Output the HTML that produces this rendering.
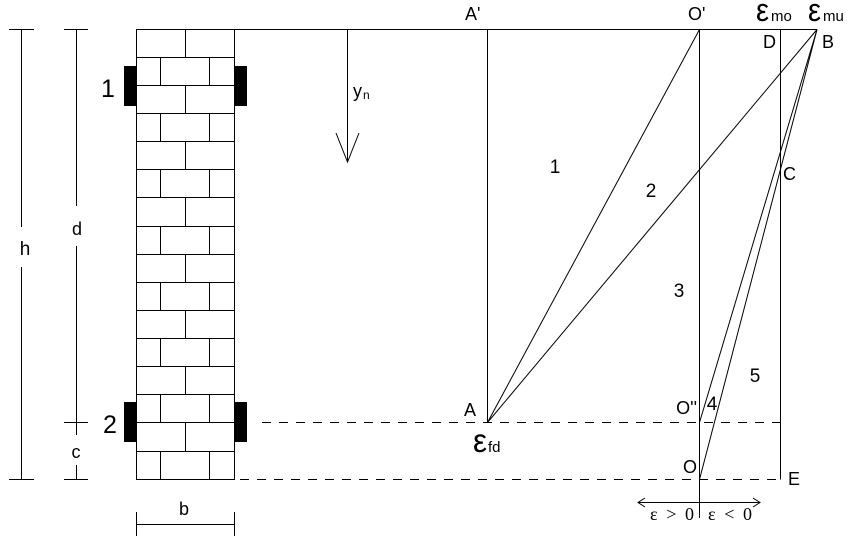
<!DOCTYPE html>
<html>
<head>
<meta charset="utf-8">
<style>
  html, body { margin: 0; padding: 0; background: #fff; }
  svg { display: block; }
  text { font-family: "Liberation Sans", Arial, sans-serif; fill: #000; }
  .serif { font-family: "Liberation Serif", "Times New Roman", serif; }
</style>
</head>
<body>
<svg width="854" height="541" viewBox="0 0 854 541" xmlns="http://www.w3.org/2000/svg">
  <rect width="854" height="541" fill="#fff"/>
  <g stroke="#000" stroke-width="1" fill="none" shape-rendering="crispEdges">
    <!-- wall outline -->
    <line x1="136.5" y1="29.5" x2="136.5" y2="479.5"/>
    <line x1="234.5" y1="29.5" x2="234.5" y2="479.5"/>
    <!-- brick course lines -->
    <line x1="136" y1="57.5" x2="235" y2="57.5"/>
    <line x1="136" y1="85.5" x2="235" y2="85.5"/>
    <line x1="136" y1="113.5" x2="235" y2="113.5"/>
    <line x1="136" y1="141.5" x2="235" y2="141.5"/>
    <line x1="136" y1="169.5" x2="235" y2="169.5"/>
    <line x1="136" y1="197.5" x2="235" y2="197.5"/>
    <line x1="136" y1="226.5" x2="235" y2="226.5"/>
    <line x1="136" y1="254.5" x2="235" y2="254.5"/>
    <line x1="136" y1="282.5" x2="235" y2="282.5"/>
    <line x1="136" y1="310.5" x2="235" y2="310.5"/>
    <line x1="136" y1="338.5" x2="235" y2="338.5"/>
    <line x1="136" y1="366.5" x2="235" y2="366.5"/>
    <line x1="136" y1="394.5" x2="235" y2="394.5"/>
    <line x1="136" y1="422.5" x2="235" y2="422.5"/>
    <line x1="136" y1="451.5" x2="235" y2="451.5"/>
    <line x1="136" y1="479.5" x2="235" y2="479.5"/>
    <!-- vertical joints: even rows middle -->
    <line x1="185.5" y1="29.5" x2="185.5" y2="57.5"/>
    <line x1="185.5" y1="85.5" x2="185.5" y2="113.5"/>
    <line x1="185.5" y1="141.5" x2="185.5" y2="169.5"/>
    <line x1="185.5" y1="197.5" x2="185.5" y2="226.5"/>
    <line x1="185.5" y1="254.5" x2="185.5" y2="282.5"/>
    <line x1="185.5" y1="310.5" x2="185.5" y2="338.5"/>
    <line x1="185.5" y1="366.5" x2="185.5" y2="394.5"/>
    <line x1="185.5" y1="422.5" x2="185.5" y2="451.5"/>
    <!-- odd rows: two joints -->
    <line x1="160.5" y1="57.5" x2="160.5" y2="85.5"/>
    <line x1="209.5" y1="57.5" x2="209.5" y2="85.5"/>
    <line x1="160.5" y1="113.5" x2="160.5" y2="141.5"/>
    <line x1="209.5" y1="113.5" x2="209.5" y2="141.5"/>
    <line x1="160.5" y1="169.5" x2="160.5" y2="197.5"/>
    <line x1="209.5" y1="169.5" x2="209.5" y2="197.5"/>
    <line x1="160.5" y1="226.5" x2="160.5" y2="254.5"/>
    <line x1="209.5" y1="226.5" x2="209.5" y2="254.5"/>
    <line x1="160.5" y1="282.5" x2="160.5" y2="310.5"/>
    <line x1="209.5" y1="282.5" x2="209.5" y2="310.5"/>
    <line x1="160.5" y1="338.5" x2="160.5" y2="366.5"/>
    <line x1="209.5" y1="338.5" x2="209.5" y2="366.5"/>
    <line x1="160.5" y1="394.5" x2="160.5" y2="422.5"/>
    <line x1="209.5" y1="394.5" x2="209.5" y2="422.5"/>
    <line x1="160.5" y1="451.5" x2="160.5" y2="479.5"/>
    <line x1="209.5" y1="451.5" x2="209.5" y2="479.5"/>

    <!-- top line -->
    <line x1="136" y1="29.5" x2="817" y2="29.5"/>

    <!-- h dimension -->
    <line x1="9" y1="29.5" x2="34" y2="29.5"/>
    <line x1="9" y1="479.5" x2="34" y2="479.5"/>
    <line x1="21.5" y1="29.5" x2="21.5" y2="227"/>
    <line x1="21.5" y1="267" x2="21.5" y2="479.5"/>
    <!-- d / c dimension -->
    <line x1="64" y1="29.5" x2="88" y2="29.5"/>
    <line x1="64" y1="422.5" x2="88" y2="422.5"/>
    <line x1="64" y1="479.5" x2="88" y2="479.5"/>
    <line x1="76.5" y1="29.5" x2="76.5" y2="206"/>
    <line x1="76.5" y1="246" x2="76.5" y2="435"/>
    <line x1="76.5" y1="465" x2="76.5" y2="479.5"/>
    <!-- b dimension -->
    <line x1="136.5" y1="512" x2="136.5" y2="536"/>
    <line x1="234.5" y1="512" x2="234.5" y2="536"/>
    <line x1="136.5" y1="524.5" x2="234.5" y2="524.5"/>

    <!-- yn arrow -->
    <line x1="347.5" y1="29.5" x2="347.5" y2="162"/>
    <polyline points="336,133 347.5,162 359,133" shape-rendering="auto"/>

    <!-- A' vertical -->
    <line x1="487.5" y1="29.5" x2="487.5" y2="422.5"/>
    <!-- O' vertical -->
    <line x1="699.5" y1="29.5" x2="699.5" y2="518"/>
    <!-- D-E vertical -->
    <line x1="780.5" y1="29.5" x2="780.5" y2="479.5"/>

    <!-- dashed lines -->
    <line x1="262" y1="422.5" x2="780" y2="422.5" stroke-dasharray="9 8"/>
    <line x1="240" y1="479.5" x2="780" y2="479.5" stroke-dasharray="9 8"/>
  </g>

  <!-- diagonal lines -->
  <g stroke="#000" stroke-width="1" fill="none">
    <line x1="699.5" y1="29.5" x2="487.5" y2="422.5"/>
    <line x1="817" y1="29.5" x2="487.5" y2="422.5"/>
    <line x1="817" y1="29.5" x2="699.5" y2="422.5"/>
    <line x1="817" y1="29.5" x2="699.5" y2="479.5"/>
    <!-- bottom axis -->
    <line x1="638" y1="502.5" x2="760" y2="502.5"/>
    <polyline points="645,498 638,502.5 645,507"/>
    <polyline points="753,498 760,502.5 753,507"/>
  </g>

  <!-- plates -->
  <g fill="#000">
    <rect x="124" y="66" width="12" height="40"/>
    <rect x="235" y="66" width="12" height="40"/>
    <rect x="124" y="402" width="12" height="40"/>
    <rect x="235" y="402" width="12" height="40"/>
  </g>

  <!-- labels -->
  <text x="108" y="97" font-size="25" text-anchor="middle">1</text>
  <text x="110" y="433" font-size="25" text-anchor="middle">2</text>
  <text x="25" y="255" font-size="19" text-anchor="middle">h</text>
  <text x="77" y="235" font-size="18" text-anchor="middle">d</text>
  <text x="76" y="458" font-size="18" text-anchor="middle">c</text>
  <text x="184" y="515" font-size="18" text-anchor="middle">b</text>

  <text x="353" y="97" font-size="18">y</text>
  <text x="363" y="99" font-size="12">n</text>

  <text x="465" y="20" font-size="18">A'</text>
  <text x="688" y="20" font-size="18">O'</text>

  <text x="756" y="21" font-size="32" textLength="13" lengthAdjust="spacingAndGlyphs">ε</text>
  <text x="771" y="21" font-size="15">mo</text>
  <text x="808" y="21" font-size="32" textLength="13" lengthAdjust="spacingAndGlyphs">ε</text>
  <text x="823" y="21" font-size="15">mu</text>

  <text x="763" y="48" font-size="18">D</text>
  <text x="822" y="48" font-size="18">B</text>
  <text x="783" y="180" font-size="18">C</text>
  <text x="788" y="485" font-size="18">E</text>

  <text x="464" y="416" font-size="18">A</text>
  <text x="473" y="452" font-size="33" textLength="14" lengthAdjust="spacingAndGlyphs">ε</text>
  <text x="488" y="452" font-size="15">fd</text>

  <text x="697" y="414" font-size="18" text-anchor="end">O''</text>
  <text x="697" y="473" font-size="18" text-anchor="end">O</text>

  <text x="555" y="173" font-size="19" text-anchor="middle">1</text>
  <text x="651" y="197" font-size="19" text-anchor="middle">2</text>
  <text x="679" y="297" font-size="19" text-anchor="middle">3</text>
  <text x="712" y="410" font-size="19" text-anchor="middle">4</text>
  <text x="755" y="382" font-size="19" text-anchor="middle">5</text>

  <text class="serif" x="650" y="520" font-size="18" textLength="44" lengthAdjust="spacing">ε &gt; 0</text>
  <text class="serif" x="708" y="520" font-size="18" textLength="44" lengthAdjust="spacing">ε &lt; 0</text>
</svg>
</body>
</html>
